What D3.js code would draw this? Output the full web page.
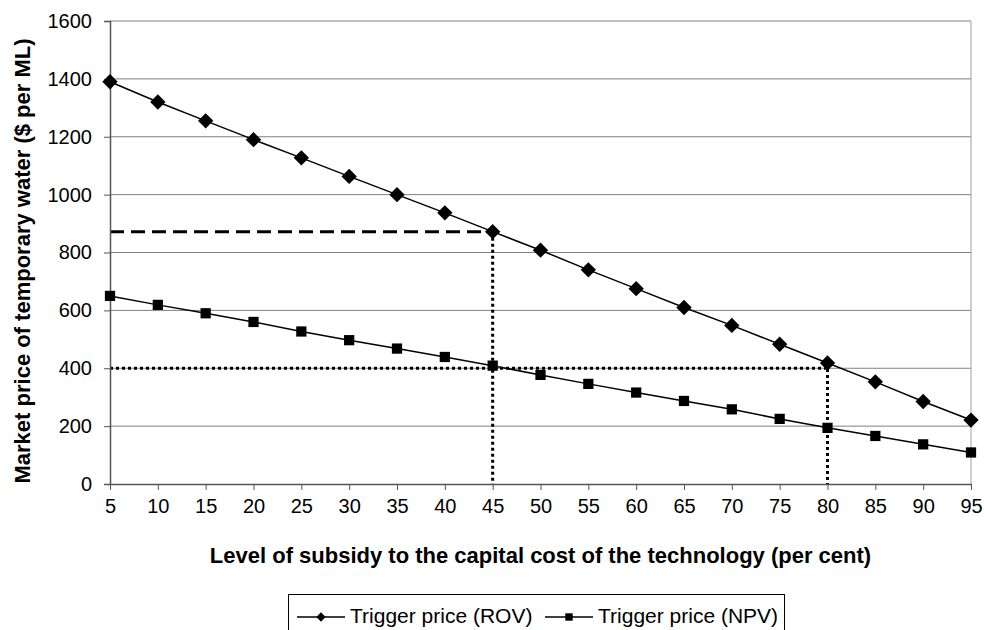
<!DOCTYPE html>
<html>
<head>
<meta charset="utf-8">
<script src="https://cdn.jsdelivr.net/npm/d3@7"></script>
<style>
  body { margin: 0; background: #fff; }
  text { font-family: "Liberation Sans", Arial, sans-serif; fill: #000; }
</style>
</head>
<body>
<svg id="chart" width="984" height="630"></svg>
<script>
// subsidy levels and trigger prices
var subsidy = [5, 10, 15, 20, 25, 30, 35, 40, 45, 50, 55, 60, 65, 70, 75, 80, 85, 90, 95];
var rov = [1390, 1320, 1255, 1190, 1127, 1063, 1000, 937, 872, 808, 740, 675, 610, 548, 483, 418, 353, 285, 221];
var npv = [650, 619, 590, 560, 527, 497, 468, 439, 409, 377, 346, 316, 287, 258, 225, 194, 166, 137, 109];
var yTicks = [0, 200, 400, 600, 800, 1000, 1200, 1400, 1600];
var seriesNames = ["Trigger price (ROV)", "Trigger price (NPV)"];

var svg = d3.select("#chart");
var plotLeft = 110, plotRight = 971, plotTop = 21, plotBottom = 484;

var x = d3.scalePoint()
    .domain(subsidy)
    .range([plotLeft, plotRight]);

var y = d3.scaleLinear()
    .domain([0, 1600])
    .range([plotBottom, plotTop]);

// grid
svg.append("g")
  .selectAll("line")
  .data(yTicks.slice(1))
  .enter().append("line")
    .attr("x1", plotLeft).attr("x2", plotRight)
    .attr("y1", function(d) { return y(d); })
    .attr("y2", function(d) { return y(d); })
    .attr("stroke", "#808080")
    .attr("stroke-width", 1);

// right border
svg.append("line")
    .attr("x1", plotRight).attr("x2", plotRight)
    .attr("y1", plotTop).attr("y2", plotBottom)
    .attr("stroke", "#a0a0a0");

// reference lines
svg.append("line")
    .attr("x1", plotLeft).attr("x2", x(45))
    .attr("y1", y(rov[8])).attr("y2", y(rov[8]))
    .attr("stroke", "#000").attr("stroke-width", 3)
    .attr("stroke-dasharray", "14,7");

svg.append("line")
    .attr("x1", plotLeft).attr("x2", x(80))
    .attr("y1", y(400)).attr("y2", y(400))
    .attr("stroke", "#000").attr("stroke-width", 3)
    .attr("stroke-dasharray", "3,3");

svg.append("line")
    .attr("x1", x(45)).attr("x2", x(45))
    .attr("y1", y(rov[8])).attr("y2", y(0))
    .attr("stroke", "#000").attr("stroke-width", 3)
    .attr("stroke-dasharray", "3,3");

svg.append("line")
    .attr("x1", x(80)).attr("x2", x(80))
    .attr("y1", y(rov[15])).attr("y2", y(0))
    .attr("stroke", "#000").attr("stroke-width", 3)
    .attr("stroke-dasharray", "3,3");

// axes
var yAxis = svg.append("g")
    .attr("transform", "translate(" + plotLeft + ",0)")
    .call(d3.axisLeft(y).tickValues(yTicks).tickFormat(d3.format("d")).tickSize(6).tickPadding(12));
yAxis.select(".domain").attr("stroke", "#555").attr("stroke-width", 1.5);
yAxis.selectAll(".tick line").attr("stroke", "#555");
yAxis.selectAll("text")
    .style("font-size", "20px")
    .style("font-family", "Liberation Sans, Arial, sans-serif");

var xAxis = svg.append("g")
    .attr("transform", "translate(0," + plotBottom + ")")
    .call(d3.axisBottom(x).tickSize(6).tickSizeOuter(0).tickPadding(9));
xAxis.select(".domain").attr("stroke", "#555").attr("stroke-width", 1.5);
xAxis.selectAll(".tick line").attr("stroke", "#555");
xAxis.selectAll("text")
    .style("font-size", "20px")
    .style("font-family", "Liberation Sans, Arial, sans-serif");

// series
var line = d3.line()
    .x(function(d, i) { return x(subsidy[i]); })
    .y(function(d) { return y(d); });

svg.append("path").datum(rov)
    .attr("d", line).attr("fill", "none")
    .attr("stroke", "#000").attr("stroke-width", 1.5);

svg.append("path").datum(npv)
    .attr("d", line).attr("fill", "none")
    .attr("stroke", "#000").attr("stroke-width", 1.5);

var diamond = d3.symbol().type(d3.symbolDiamond2).size(150);
var square = d3.symbol().type(d3.symbolSquare).size(105);

svg.append("g").selectAll("path")
  .data(rov)
  .enter().append("path")
    .attr("d", diamond)
    .attr("transform", function(d, i) { return "translate(" + x(subsidy[i]) + "," + y(d) + ")"; })
    .attr("fill", "#000");

svg.append("g").selectAll("path")
  .data(npv)
  .enter().append("path")
    .attr("d", square)
    .attr("transform", function(d, i) { return "translate(" + x(subsidy[i]) + "," + y(d) + ")"; })
    .attr("fill", "#000");

// axis titles
svg.append("text")
    .attr("x", (plotLeft + plotRight) / 2)
    .attr("y", 563)
    .attr("text-anchor", "middle")
    .attr("font-weight", "bold")
    .style("font-size", "22px")
    .text("Level of subsidy to the capital cost of the technology (per cent)");

svg.append("text")
    .attr("transform", "translate(30,261) rotate(-90)")
    .attr("text-anchor", "middle")
    .attr("font-weight", "bold")
    .style("font-size", "22px")
    .text("Market price of temporary water ($ per ML)");

// legend
var legend = svg.append("g");
legend.append("rect")
    .attr("x", 288.5).attr("y", 594.5)
    .attr("width", 496).attr("height", 40)
    .attr("fill", "#fff")
    .attr("stroke", "#000");

var legendX = [297, 545];
seriesNames.forEach(function(name, i) {
  var lx = legendX[i];
  legend.append("line")
      .attr("x1", lx).attr("x2", lx + 48)
      .attr("y1", 617).attr("y2", 617)
      .attr("stroke", "#000").attr("stroke-width", 1.5);
  legend.append("path")
      .attr("d", i === 0 ? d3.symbol().type(d3.symbolDiamond2).size(55)() : d3.symbol().type(d3.symbolSquare).size(55)())
      .attr("transform", "translate(" + (lx + 24) + ",617)")
      .attr("fill", "#000");
  legend.append("text")
      .attr("x", lx + 53)
      .attr("y", 623)
      .style("font-size", "21px")
      .text(name);
});
</script>
</body>
</html>
